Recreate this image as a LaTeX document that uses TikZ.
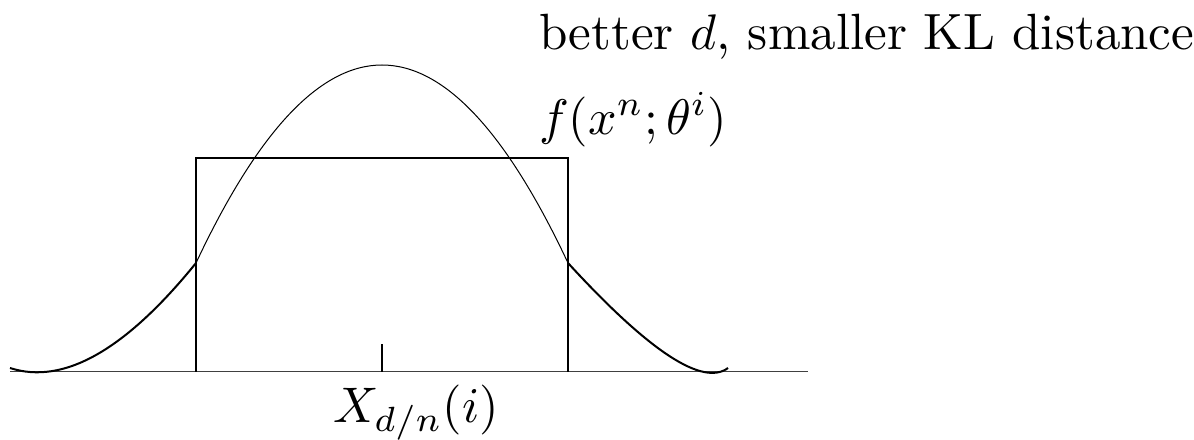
\documentclass[tikz,border=0pt]{standalone}
\begin{document}
\begin{tikzpicture}[x=0.2pt,y=-0.2pt,
  lbl/.style={anchor=base west,inner sep=0pt,font=\fontsize{10.2}{12}\selectfont},
  thinline/.style={line width=0.2pt},
  midline/.style={line width=0.3pt},
  thickline/.style={line width=0.4pt}]
\useasboundingbox (0,0) rectangle (1194,439);
% axis
\draw[midline,black!75] (10,371.5) -- (808,371.5);
% tick
\draw[midline] (382,344) -- (382,371.5);
% rectangle
\draw[midline] (196,371.5) -- (196,158) -- (568,158) -- (568,371.5);
% curve
\draw[thickline] (10,368) .. controls (63.3,385.3) and (125.3,350.3) .. (196,263);
\draw[thinline] (196,263) .. controls (320,-1) and (444,-1) .. (568,263);
\draw[thickline] (568,263) .. controls (649.3,351.7) and (702.7,386.7) .. (728,368);
% labels
\node[lbl] (title) at (538,50) {better $d$, smaller KL distance};
\node[lbl] (f) at (538,134) {$f(x^n;\theta^i)$};
\node[lbl] (X) at (332,422) {$X_{d/n}(i)$};
\end{tikzpicture}
\end{document}
